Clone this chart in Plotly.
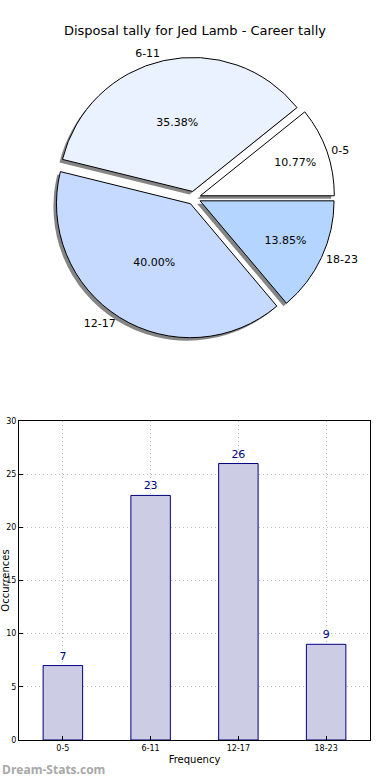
import plotly.graph_objects as go

categories = ["0-5", "6-11", "12-17", "18-23"]
counts = [7, 23, 26, 9]
pie_colors = ["#ffffff", "#eaf1ff", "#c6d9ff", "#b3d5ff"]
title_text = "Disposal tally for Jed Lamb - Career tally"
x_title = "Frequency"
y_title = "Occurrences"
y_ticks = [0, 5, 10, 15, 20, 25, 30]

W, H = 390, 780
FONT = "DejaVu Sans"

# pie geometry (pixels)
cx, cy, R = 194, 198, 134
PULL = 0.05
half = R * (1 + PULL)
lab_half = R * 1.06
sh = 3  # shadow offset px

def dom(c_x, c_y, h):
    return dict(x=[(c_x - h) / W, (c_x + h) / W], y=[1 - (c_y + h) / H, 1 - (c_y - h) / H])

# first slice must start at 3 o'clock going counterclockwise
rot = 90 - 360 * counts[0] / sum(counts)

common = dict(labels=categories, values=counts, sort=False,
              direction="counterclockwise", rotation=rot, showlegend=False)

fig = go.Figure()

# shadow
fig.add_trace(go.Pie(
    **common, pull=PULL, marker=dict(colors=["#858585"] * 4, line=dict(width=0)),
    textinfo="none", hoverinfo="skip", domain=dom(cx - sh, cy + sh, half),
))
# main pie with percentages
fig.add_trace(go.Pie(
    **common, pull=PULL,
    marker=dict(colors=pie_colors, line=dict(color="#000000", width=1)),
    texttemplate="%{percent:.2%}", textposition="inside", insidetextorientation="horizontal",
    textfont=dict(family=FONT, size=11, color="#000000"),
    hoverinfo="skip", domain=dom(cx, cy, half),
))
# category labels outside (transparent overlay, slightly larger)
fig.add_trace(go.Pie(
    **common, marker=dict(colors=["rgba(0,0,0,0)"] * 4, line=dict(width=0)),
    texttemplate="%{label}", textposition="outside",
    textfont=dict(family=FONT, size=11, color="#000000"),
    hoverinfo="skip", domain=dom(cx, cy, lab_half),
))

fig.add_trace(go.Bar(
    x=categories, y=counts, width=0.45,
    marker=dict(color="#ccccE5", line=dict(color="#000080", width=1)),
    text=counts, textposition="outside", cliponaxis=False,
    textfont=dict(family=FONT, size=11, color="#000080"),
    hoverinfo="skip", showlegend=False, xaxis="x", yaxis="y",
))

axis_common = dict(showline=True, mirror=True, linecolor="#000000", linewidth=1,
                   showgrid=True, gridcolor="#bdbdbd", griddash="1px,3px", gridwidth=1,
                   ticks="inside", ticklen=4, tickcolor="#000000",
                   tickfont=dict(family=FONT, size=8, color="#000000"),
                   zeroline=False, fixedrange=True, automargin=False)

fig.update_layout(
    width=W, height=H, margin=dict(l=0, r=0, t=0, b=0, autoexpand=False),
    paper_bgcolor="white", plot_bgcolor="white", hovermode=False,
    font=dict(family=FONT, color="#000000"),
    title=dict(text=title_text, x=0.5, xanchor="center", y=1 - 30 / H, yanchor="middle",
               font=dict(family=FONT, size=13, color="#000000")),
    xaxis=dict(domain=[19 / W, 370 / W], anchor="y", range=[-0.5, 3.5],
               title=dict(text=x_title, font=dict(family=FONT, size=10), standoff=4),
               **axis_common),
    yaxis=dict(domain=[1 - 740 / H, 1 - 421 / H], anchor="x", range=[0, 30],
               tickvals=y_ticks,
               title=dict(text=y_title, font=dict(family=FONT, size=10), standoff=9),
               **axis_common),
    annotations=[dict(text="<b>Dream-Stats.com</b>", xref="paper", yref="paper",
                      x=0, y=0, xanchor="left", yanchor="bottom", showarrow=False,
                      font=dict(family="Open Sans", size=12, color="#a8a8a8"))],
)

fig.write_html("out.html", config={"displayModeBar": False, "staticPlot": True},
               post_script="document.body.style.margin='0';")
